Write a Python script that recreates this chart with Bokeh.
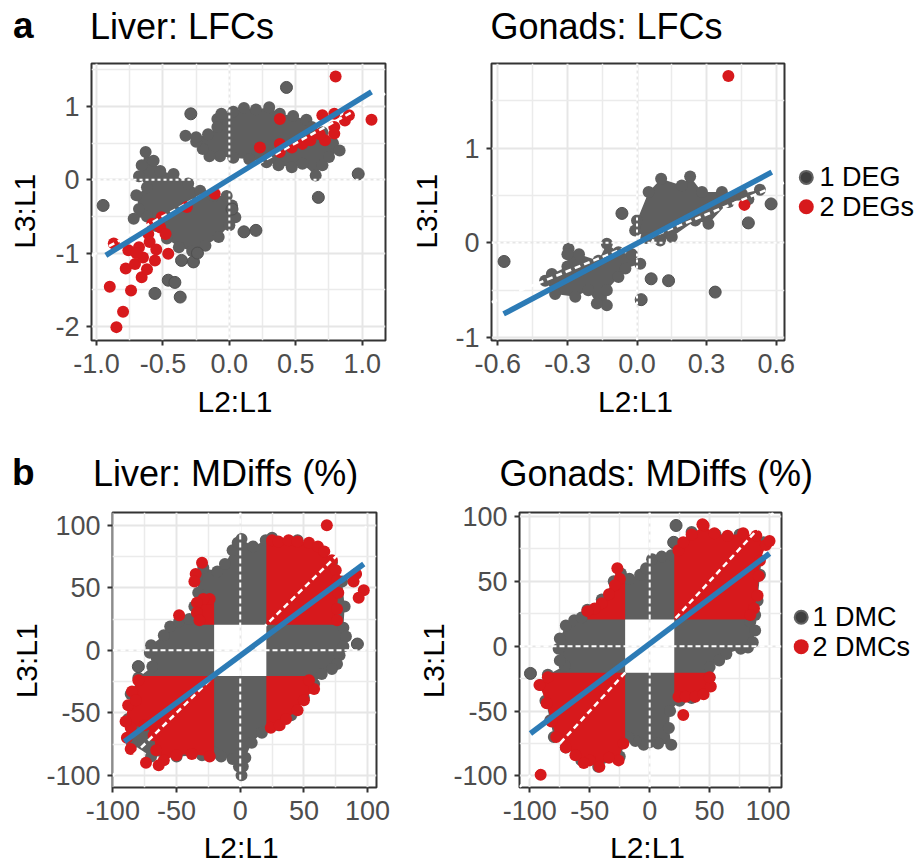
import math
from bokeh.plotting import figure
from bokeh.models import Range1d, FixedTicker
from bokeh.core.properties import value
from bokeh.layouts import row, column
from bokeh.embed import file_html
from bokeh.resources import INLINE

# ======================= DATA =======================
# ---- panel a, Liver: LFCs ----
liver_lfc_xticks = [-1.0, -0.5, 0.0, 0.5, 1.0]
liver_lfc_xlabels = ["-1.0", "-0.5", "0.0", "0.5", "1.0"]
liver_lfc_xminor = [-0.75, -0.25, 0.25, 0.75]
liver_lfc_yticks = [-2, -1, 0, 1]
liver_lfc_ylabels = ["-2", "-1", "0", "1"]
liver_lfc_yminor = [-1.5, -0.5, 0.5, 1.5]

liver_lfc_red_x = [0.80, 1.07, 0.38, 0.23, 0.38, 0.38, 0.47, 0.55, 0.61, 0.70, 0.79, 0.87, 0.79, 0.72, 0.79, 0.90, 0.68,
                   -0.11, -0.32, -0.51, -0.52, -0.61, -0.48, -0.46, -0.56, -0.68, -0.76, -0.78, -0.71, -0.66, -0.74,
                   -0.90, -0.80, -0.85, -0.87, -0.65, -0.60, -0.55, -0.70, -0.62, -0.58]
liver_lfc_red_y = [1.41, 0.82, 0.83, 0.44, 0.49, 0.38, 0.44, 0.49, 0.54, 0.88, 0.90, 0.81, 0.72, 0.54, 0.63, 0.88, 0.62,
                   -0.19, -0.37, -0.51, -0.65, -0.74, -0.74, -1.01, -1.10, -0.92, -0.96, -1.21, -1.15, -1.33, -1.51,
                   -1.46, -1.80, -2.01, -0.87, -1.06, -0.85, -0.95, -1.00, -1.22, -0.60]
liver_lfc_gray_x = [0.43, -0.29, 0.67, 0.97, -0.95, 0.11, 0.20, -0.36, -0.27, -0.46, -0.41, -0.56, -0.37, -0.24, 0.02]
liver_lfc_gray_y = [1.26, 0.90, -0.24, 0.08, -0.35, -0.71, -0.69, -1.10, -1.12, -1.37, -1.40, -1.55, -1.60, -1.00, -0.40]
# outline of the dense upper-right group of 1-DEG genes
liver_lfc_up_x = [-0.09, -0.06, 0.03, 0.11, 0.20, 0.30, 0.38, 0.48, 0.58, 0.62, 0.70, 0.78, 0.83, 0.75, 0.70,
                  0.65, 0.55, 0.47, 0.37, 0.28, 0.15, 0.03, -0.07, -0.15, -0.20, -0.25, -0.33, -0.25, -0.16, -0.09]
liver_lfc_up_y = [0.83, 0.90, 0.93, 0.98, 0.96, 0.99, 0.90, 0.87, 0.82, 0.72, 0.65, 0.50, 0.40, 0.31, 0.20,
                  0.06, 0.22, 0.17, 0.20, 0.24, 0.28, 0.30, 0.32, 0.32, 0.42, 0.52, 0.60, 0.58, 0.62, 0.72]
# outline of the dense lower-left group of 1-DEG genes
liver_lfc_lo_x = [-0.63, -0.57, -0.52, -0.42, -0.31, -0.22, -0.12, -0.02, 0.02, 0.045, 0.0, -0.08, -0.18, -0.28,
                  -0.38, -0.47, -0.55, -0.62, -0.72, -0.68, -0.70, -0.62, -0.68, -0.66]
liver_lfc_lo_y = [0.38, 0.26, 0.12, 0.08, -0.05, -0.15, -0.22, -0.22, -0.35, -0.51, -0.62, -0.78, -0.90, -0.97,
                  -0.92, -0.80, -0.63, -0.50, -0.53, -0.40, -0.21, -0.10, 0.05, 0.20]
liver_lfc_fit_x = [-0.93, 1.07]
liver_lfc_fit_y = [-1.03, 1.20]

# ---- panel a, Gonads: LFCs ----
gonads_lfc_xticks = [-0.6, -0.3, 0.0, 0.3, 0.6]
gonads_lfc_xlabels = ["-0.6", "-0.3", "0.0", "0.3", "0.6"]
gonads_lfc_xminor = [-0.45, -0.15, 0.15, 0.45]
gonads_lfc_yticks = [-1, 0, 1]
gonads_lfc_ylabels = ["-1", "0", "1"]
gonads_lfc_yminor = [-0.5, 0.5, 1.5]

gonads_lfc_red_x = [0.394, 0.463]
gonads_lfc_red_y = [1.76, 0.40]
gonads_lfc_gray_x = [-0.573, -0.065, 0.337, 0.061, 0.136, 0.018, 0.48, 0.578]
gonads_lfc_gray_y = [-0.197, 0.31, -0.52, -0.38, -0.40, -0.60, 0.21, 0.41]
gonads_lfc_up_x = [0.0, 0.05, 0.104, 0.193, 0.229, 0.28, 0.366, 0.452, 0.53, 0.48, 0.395, 0.308, 0.251, 0.15,
                   0.10, 0.04, -0.008]
gonads_lfc_up_y = [0.235, 0.535, 0.675, 0.605, 0.70, 0.535, 0.535, 0.517, 0.56, 0.46, 0.43, 0.20, 0.235, 0.06,
                   0.025, 0.05, 0.13]
gonads_lfc_lo_x = [-0.295, -0.25, -0.166, -0.13, -0.08, -0.022, 0.014, -0.05, -0.08, -0.13, -0.13, -0.173, -0.21,
                   -0.266, -0.353, -0.396, -0.367, -0.30, -0.30]
gonads_lfc_lo_y = [-0.063, -0.12, -0.19, -0.01, -0.10, -0.12, -0.22, -0.27, -0.36, -0.50, -0.66, -0.64, -0.50,
                   -0.57, -0.54, -0.40, -0.33, -0.25, -0.12]
gonads_lfc_fit_x = [-0.575, 0.581]
gonads_lfc_fit_y = [-0.75, 0.745]

# ---- panel b (methylation differences, %) ----
md_ticks = [-100, -50, 0, 50, 100]
md_labels = ["-100", "-50", "0", "50", "100"]
md_minor = [-75, -25, 25, 75]
md_cut = 20.5   # edge of the empty centre (no DMC in either comparison)

liver_md_ring_x = [1, 10, 20, 25, 45, 62, 72, 80, 82, 81, 83, 81, 78, 76, 72, 64, 58, 50, 40, 30, 17, 9, 4, 2, 1,
                   -1, -6, -15, -20, -30, -50, -70, -85, -88, -86, -80, -69, -71, -70, -60, -55, -48, -40, -36, -33,
                   -34, -29, -18, -12, -6, -2]
liver_md_ring_y = [89, 83, 88, 90, 88, 80, 70, 55, 35, 18, 11, 3, -4, -11, -15, -19, -27, -38, -52, -60, -66, -74,
                   -86, -93, -100, -93, -87, -85, -82, -84, -85, -85, -75, -55, -35, -22, -13, -2, 4, 12, 19, 23, 25,
                   35, 46, 58, 66, 63, 69, 80, 86]
liver_md_gray_x = [92, -80]
liver_md_gray_y = [5, -13]
liver_md_ur_x = [25, 30, 38, 45, 54, 61, 66, 72, 75, 76, 77, 76, 76]
liver_md_ur_y = [88, 87, 88, 87, 86, 83, 79, 72, 64, 56, 46, 33, 24]
liver_md_lr_x = [24, 31, 36, 45, 50, 58, 54]
liver_md_lr_y = [-62, -60, -55, -48, -40, -31, -24]
liver_md_ll_x = [-24, -38, -50, -60, -66, -68, -75, -86, -90, -88, -85, -80]
liver_md_ll_y = [-85, -83, -84, -88, -80, -68, -60, -62, -57, -44, -33, -24]
liver_md_ul_x = [-24, -29, -34, -34, -32]
liver_md_ul_y = [41, 41, 38, 30, 24]
liver_md_red_x = [68, 91, 89, 97, 93, -89, -86, -74, -64, -82, -48, -30, -35, -36]
liver_md_red_y = [100, 61, 55, 48, 42, -70, -79, -90, -92, -40, 28, 70, 61, 55]
liver_md_fit_x = [-91, 97]
liver_md_fit_y = [-73, 69]

gonads_md_ring_x = [-17, -8, -3, 2, 10, 18, 22, 35, 55, 75, 95, 92, 90, 88, 84, 88, 86, 82, 76, 64, 58, 50, 50, 45,
                    35, 25, 17, 16, 18, 7, 0, -5, -12, -18, -25, -43, -57, -70, -80, -83, -87, -91, -85, -71, -75,
                    -76, -75, -70, -63, -57, -52, -40, -30, -24]
gonads_md_ring_y = [52, 55, 60, 67, 69, 70, 78, 88, 86, 86, 80, 55, 35, 24, 19, 12, 3, -1, -2, -6, -11, -16, -24,
                    -33, -40, -42, -50, -63, -76, -75, -74, -76, -73, -70, -85, -93, -88, -78, -70, -57, -42, -30,
                    -22, -15, -11, -2, 6, 16, 20, 22, 28, 36, 50, 56]
gonads_md_gray_x = [-99.5, 22, 20]
gonads_md_gray_y = [-21, 93, 80]
gonads_md_ur_x = [24, 28, 35, 45, 54, 65, 78, 89, 97, 92, 91, 90, 87, 84]
gonads_md_ur_y = [74, 80, 86, 93, 87, 85, 87, 85, 78, 66, 54, 39, 29, 24]
gonads_md_lr_x = [24, 30, 38, 45, 51, 50]
gonads_md_lr_y = [-39, -39, -39, -37, -31, -24]
gonads_md_ll_x = [-22, -26, -34, -42, -50, -55, -62, -70, -78, -82, -86, -92, -85]
gonads_md_ll_y = [-75, -88, -86, -93, -88, -90, -84, -78, -70, -58, -44, -30, -24]
gonads_md_ul_x = [-25, -29, -34, -40, -46, -52]
gonads_md_ul_y = [52, 47, 40, 33, 29, 27]
gonads_md_red_x = [100, 44, 28, -91, -27]
gonads_md_red_y = [81, 94, -53, -99, 60]
gonads_md_fit_x = [-99.5, 100]
gonads_md_fit_y = [-67.3, 71.4]

# ======================= STYLE / LAYOUT =======================
FONT = "Liberation Sans"
GRAY = "#5F5F5F"
RED = "#D7191C"
BLUE = "#2C7BB6"
PT = 12
MID = 0.3465   # baseline offset below the em-box middle, in em

# panel figures: width, height, left border, top border, frame width, frame height
G_A = dict(w=360, h=330, bl=43, bt=8, fw=294, fh=277)
G_B = dict(w=348, h=330, bl=43, bt=8, fw=293, fh=277)
G_C = dict(w=369, h=330, bl=69, bt=11, fw=264, fh=276)
G_D = dict(w=340, h=330, bl=68, bt=12, fw=263, fh=275)

XR_A, YR_A = (-1.0376, 1.1754), (-2.1924, 1.5866)
XR_B, YR_B = (-0.6272, 0.6358), (-1.0306, 1.8914)
XR_C, YR_C = (-100.3, 107.0), (-109.7, 110.2)
XR_D, YR_D = (-108.65, 109.98), (-108.9, 103.0)


def base_fig(g, xr, yr, xt, xl, xm, yt, yl, ym):
    p = figure(width=g["w"], height=g["h"], x_range=Range1d(*xr), y_range=Range1d(*yr),
               output_backend="svg", toolbar_location=None,
               min_border_left=g["bl"], min_border_top=g["bt"],
               min_border_right=g["w"] - g["bl"] - g["fw"],
               min_border_bottom=g["h"] - g["bt"] - g["fh"])
    p.background_fill_color = "white"
    p.border_fill_color = "white"
    p.outline_line_color = "#333333"
    p.outline_line_width = 2
    for ax, ticks, labels, minor, st in ((p.xaxis[0], xt, xl, xm, 8), (p.yaxis[0], yt, yl, ym, 7)):
        ax.ticker = FixedTicker(ticks=ticks, minor_ticks=minor)
        ax.major_label_overrides = {t: s for t, s in zip(ticks, labels)}
        ax.axis_line_color = None
        ax.major_tick_line_color = "#333333"
        ax.major_tick_line_width = 2
        ax.major_tick_in = 0
        ax.major_tick_out = 5
        ax.minor_tick_line_color = None
        ax.major_label_text_font = FONT
        ax.major_label_text_font_size = "27px"
        ax.major_label_text_color = "#4D4D4D"
        ax.major_label_standoff = st
    for gr in (p.xgrid[0], p.ygrid[0]):
        gr.grid_line_color = "#E6E6E6"
        gr.grid_line_width = 2
        gr.minor_grid_line_color = "#EBEBEB"
        gr.minor_grid_line_width = 1.5
    return p


def aux(w, h):
    """Blank strip used for titles, axis titles and legends (pixel coordinates, y from top)."""
    p = figure(width=w, height=h, x_range=Range1d(0, w), y_range=Range1d(0, h),
               output_backend="svg", toolbar_location=None, x_axis_type=None, y_axis_type=None,
               min_border=0)
    p.outline_line_color = None
    p.background_fill_color = "white"
    p.border_fill_color = "white"
    p.grid.visible = False
    return p


def txt(p, x, baseline, text, size, bold=False, align="left"):
    """Horizontal text whose baseline sits at `baseline` pixels from the strip top."""
    h = p.height
    y_top = baseline - MID * size
    p.text(x=[x], y=[h - y_top], text=[text], text_font=value(FONT), text_font_size=value(f"{size}px"),
           text_font_style="bold" if bold else "normal", text_align=align, text_baseline="middle",
           text_color="black")


ROT_SHIFT = 25.0   # empirical correction of the rotated-text placement


def vtxt(p, baseline_x, center_y, text, size):
    """Text rotated to read upwards, baseline at x=baseline_x, centred at center_y (from top)."""
    h = p.height
    p.text(x=[baseline_x - MID * size], y=[h - (center_y + ROT_SHIFT)], text=[text], angle=math.pi / 2,
           text_font=value(FONT), text_font_size=value(f"{size}px"), text_align="center",
           text_baseline="middle", text_color="black")


def ref_lines(p, xr, yr, dash):
    p.line(x=[xr[0], xr[1]], y=[0, 0], line_color="white", line_width=2, line_dash=dash)
    p.line(x=[0, 0], y=[yr[0], yr[1]], line_color="white", line_width=2, line_dash=dash)
    lo, hi = max(xr[0], yr[0]), min(xr[1], yr[1])
    p.line(x=[lo, hi], y=[lo, hi], line_color="white", line_width=2.5, line_dash="6 4")


def quad_poly(ex, ey, sx, sy, cut):
    px = [sx * cut, sx * cut] + list(ex) + [ex[-1]]
    py = [sy * cut, ey[0]] + list(ey) + [sy * cut]
    return px, py


def legend_strip(w, h, labels, cx, cy1, cy2, tx):
    p = aux(w, h)
    hh = p.height
    p.scatter(x=[cx], y=[hh - cy1], size=13, marker="circle", fill_color="#3F3F3F", line_color="#626262",
              line_width=2)
    p.scatter(x=[cx], y=[hh - cy2], size=15, marker="circle", fill_color=RED, line_color=None)
    txt(p, tx, cy1 + MID * 27, labels[0], 27)
    txt(p, tx, cy2 + MID * 27, labels[1], 27)
    return p


# ---------------- panel a left ----------------
pa = base_fig(G_A, XR_A, YR_A, liver_lfc_xticks, liver_lfc_xlabels, liver_lfc_xminor,
              liver_lfc_yticks, liver_lfc_ylabels, liver_lfc_yminor)
pa.patches(xs=[liver_lfc_up_x, liver_lfc_lo_x], ys=[liver_lfc_up_y, liver_lfc_lo_y], fill_color=GRAY, line_color=None)
pa.scatter(x=liver_lfc_up_x + liver_lfc_lo_x, y=liver_lfc_up_y + liver_lfc_lo_y, size=PT, fill_color=GRAY, line_color=None)
pa.scatter(x=liver_lfc_gray_x, y=liver_lfc_gray_y, size=PT, fill_color=GRAY, line_color="#505050", line_width=1)
pa.scatter(x=liver_lfc_red_x, y=liver_lfc_red_y, size=PT, fill_color=RED, line_color=None)
ref_lines(pa, XR_A, YR_A, "3 3")
pa.line(x=liver_lfc_fit_x, y=liver_lfc_fit_y, line_color=BLUE, line_width=5.5)

# ---------------- panel a right ----------------
pb = base_fig(G_B, XR_B, YR_B, gonads_lfc_xticks, gonads_lfc_xlabels, gonads_lfc_xminor,
              gonads_lfc_yticks, gonads_lfc_ylabels, gonads_lfc_yminor)
pb.patches(xs=[gonads_lfc_up_x, gonads_lfc_lo_x], ys=[gonads_lfc_up_y, gonads_lfc_lo_y], fill_color=GRAY, line_color=None)
pb.scatter(x=gonads_lfc_up_x + gonads_lfc_lo_x, y=gonads_lfc_up_y + gonads_lfc_lo_y, size=PT, fill_color=GRAY, line_color=None)
pb.scatter(x=gonads_lfc_gray_x, y=gonads_lfc_gray_y, size=PT, fill_color=GRAY, line_color="#505050", line_width=1)
pb.scatter(x=gonads_lfc_red_x, y=gonads_lfc_red_y, size=PT, fill_color=RED, line_color=None)
ref_lines(pb, XR_B, YR_B, "3 3")
pb.line(x=gonads_lfc_fit_x, y=gonads_lfc_fit_y, line_color=BLUE, line_width=5.5)


# ---------------- panel b ----------------
def md_panel(g, xr, yr, ring_x, ring_y, gx, gy, ur, lr, ll, ul, rx, ry, fx, fy):
    p = base_fig(g, xr, yr, md_ticks, md_labels, md_minor, md_ticks, md_labels, md_minor)
    hole_x = [-md_cut, md_cut, md_cut, -md_cut]
    hole_y = [-md_cut, -md_cut, md_cut, md_cut]
    p.multi_polygons(xs=[[[ring_x, hole_x]]], ys=[[[ring_y, hole_y]]], fill_color=GRAY, line_color=None)
    p.scatter(x=ring_x, y=ring_y, size=PT, fill_color=GRAY, line_color=None)
    p.scatter(x=gx, y=gy, size=PT, fill_color=GRAY, line_color="#505050", line_width=1)
    polys_x, polys_y, ex_all, ey_all = [], [], [], []
    for (ex, ey), sx, sy in ((ur, 1, 1), (lr, 1, -1), (ll, -1, -1), (ul, -1, 1)):
        qx, qy = quad_poly(ex, ey, sx, sy, md_cut)
        polys_x.append(qx)
        polys_y.append(qy)
        ex_all += list(ex)
        ey_all += list(ey)
    p.patches(xs=polys_x, ys=polys_y, fill_color=RED, line_color=None)
    p.scatter(x=ex_all, y=ey_all, size=PT, fill_color=RED, line_color=None)
    p.scatter(x=rx, y=ry, size=PT, fill_color=RED, line_color=None)
    ref_lines(p, xr, yr, "5 3")
    p.line(x=fx, y=fy, line_color=BLUE, line_width=5.5)
    return p


pc = md_panel(G_C, XR_C, YR_C, liver_md_ring_x, liver_md_ring_y, liver_md_gray_x, liver_md_gray_y,
              (liver_md_ur_x, liver_md_ur_y), (liver_md_lr_x, liver_md_lr_y),
              (liver_md_ll_x, liver_md_ll_y), (liver_md_ul_x, liver_md_ul_y),
              liver_md_red_x, liver_md_red_y, liver_md_fit_x, liver_md_fit_y)
pd_ = md_panel(G_D, XR_D, YR_D, gonads_md_ring_x, gonads_md_ring_y, gonads_md_gray_x, gonads_md_gray_y,
               (gonads_md_ur_x, gonads_md_ur_y), (gonads_md_lr_x, gonads_md_lr_y),
               (gonads_md_ll_x, gonads_md_ll_y), (gonads_md_ul_x, gonads_md_ul_y),
               gonads_md_red_x, gonads_md_red_y, gonads_md_fit_x, gonads_md_fit_y)

# ---------------- text strips ----------------
head1 = aux(922, 55)
txt(head1, 12.5, 38, "a", 37, bold=True)
txt(head1, 89.5, 38, "Liver: LFCs", 36)
txt(head1, 490, 38, "Gonads: LFCs", 36)

ylab_a = aux(48, 330)
vtxt(ylab_a, 34, 151, "L3:L1", 30)
ylab_b = aux(40, 330)
vtxt(ylab_b, 28, 151, "L3:L1", 30)
leg_b = legend_strip(126, 330, ["1 DEG", "2 DEGs"], 9.8, 135.7, 170.7, 23)

xlab1 = aux(922, 55)
txt(xlab1, 234.5, 26, "L2:L1", 30, align="center")
txt(xlab1, 635, 26, "L2:L1", 30, align="center")

head2 = aux(922, 60)
txt(head2, 11.5, 45, "b", 37, bold=True)
txt(head2, 92.5, 45, "Liver: MDiffs (%)", 36)
txt(head2, 499, 45, "Gonads: MDiffs (%)", 36)

ylab_c = aux(43, 330)
vtxt(ylab_c, 36.5, 153, "L3:L1", 30)
ylab_d = aux(38, 330)
vtxt(ylab_d, 31, 153, "L3:L1", 30)
leg_d = legend_strip(132, 330, ["1 DMC", "2 DMCs"], 10.7, 125.7, 161, 22)

xlab2 = aux(922, 33)
txt(xlab2, 240.7, 27, "L2:L1", 30, align="center")
txt(xlab2, 647, 27, "L2:L1", 30, align="center")

layout = column(
    head1,
    row(ylab_a, pa, ylab_b, pb, leg_b, spacing=0),
    xlab1,
    head2,
    row(ylab_c, pc, ylab_d, pd_, leg_d, spacing=0),
    xlab2,
    spacing=0,
)
open("out.html", "w").write(file_html(layout, INLINE))
